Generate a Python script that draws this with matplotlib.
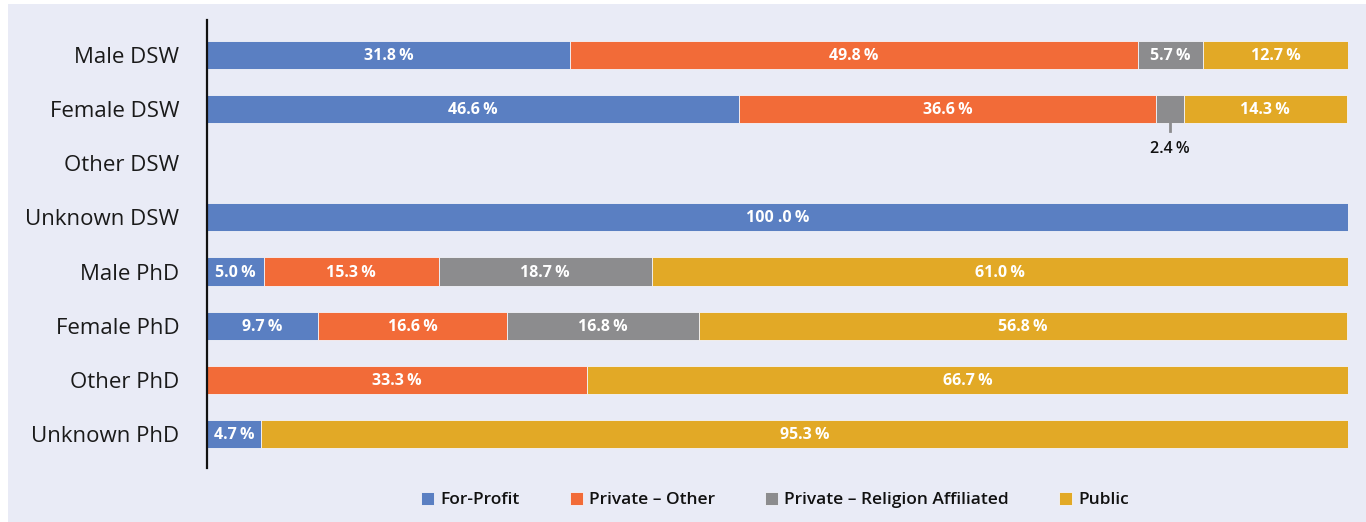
import matplotlib
matplotlib.use("Agg")
import matplotlib.pyplot as plt
from matplotlib.patches import Rectangle
import numpy as np

categories = ["Male DSW", "Female DSW", "Other DSW", "Unknown DSW",
              "Male PhD", "Female PhD", "Other PhD", "Unknown PhD"]
series_names = ["For-Profit", "Private \u2013 Other", "Private \u2013 Religion Affiliated", "Public"]
for_profit = [31.8, 46.6, 0, 100.0, 5.0, 9.7, 0, 4.7]
private_other = [49.8, 36.6, 0, 0, 15.3, 16.6, 33.3, 0]
private_religion = [5.7, 2.4, 0, 0, 18.7, 16.8, 0, 0]
public = [12.7, 14.3, 0, 0, 61.0, 56.8, 66.7, 95.3]
colors = ["#5A7FC2", "#F26B38", "#8C8C8E", "#E2A926"]
bg = "#E9EBF6"

plt.rcParams['font.family'] = ['Open Sans', 'DejaVu Sans']

fig = plt.figure(figsize=(13.66, 5.22), dpi=100, facecolor="white")
fig.patches.append(Rectangle((8/1366, 0), 1 - 8/1366, 1 - 4/522, transform=fig.transFigure,
                             facecolor=bg, edgecolor="none", zorder=-10))
ax = fig.add_axes([207/1366, 1 - 468/522, (1348 - 207)/1366, (468 - 20)/522])
ax.set_facecolor("none")

y = np.arange(len(categories))
series = [for_profit, private_other, private_religion, public]
left = np.zeros(len(categories))
h = 0.52
for name, vals, col in zip(series_names, series, colors):
    vals = np.array(vals, dtype=float)
    ax.barh(y, vals, left=left, height=h, color=col, edgecolor="#F3F4FA", linewidth=0.6, label=name)
    for i, v in enumerate(vals):
        if v <= 0:
            continue
        txt = f"{v:.1f}\u2009%".replace("100.0", "100 .0")
        cx = left[i] + v / 2
        if v < 3:
            ax.plot([cx, cx], [y[i] + h / 2, y[i] + h / 2 + 0.14], color="#8C8C8E", lw=2)
            ax.text(cx, y[i] + 0.74, txt, ha="center", va="center", color="#111111",
                    fontsize=11.5, fontweight="semibold")
        else:
            ax.text(cx, y[i] + 0.02, txt, ha="center", va="center", color="white",
                    fontsize=11.5, fontweight="bold")
    left += vals

ax.set_xlim(0, 100)
ax.set_ylim(7.628, -0.646)
ax.set_yticks(y)
ax.set_yticklabels(categories, fontsize=16, color="#1a1a1a")
ax.tick_params(axis="y", length=0, pad=20)
ax.set_xticks([])
for s in ["top", "right", "bottom"]:
    ax.spines[s].set_visible(False)
ax.spines["left"].set_color("#111111")
ax.spines["left"].set_linewidth(1.6)

leg = fig.legend(loc="center", bbox_to_anchor=(775/1366, 1 - 500/522), ncol=4, frameon=False,
                 fontsize=12.5, handlelength=0.75, handleheight=0.75, handletextpad=0.35,
                 columnspacing=2.9)
for t in leg.get_texts():
    t.set_fontweight("semibold")
    t.set_color("#111111")

fig.savefig("out.png", dpi=100, facecolor=fig.get_facecolor())
